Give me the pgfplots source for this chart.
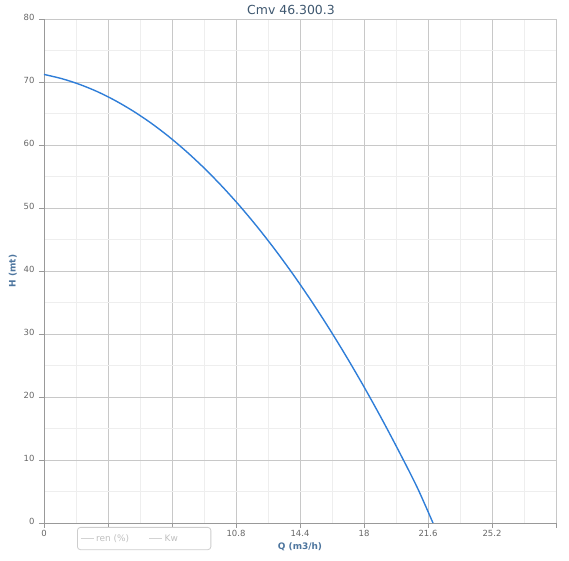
\documentclass[border=0pt]{standalone}
\usepackage{pgfplots}
\pgfplotsset{compat=1.18}
\usepackage{fontspec}
\setmainfont{DejaVu Sans}
\definecolor{curve}{HTML}{2F7ED8}
\definecolor{majgrid}{HTML}{C8C8C8}
\definecolor{mingrid}{HTML}{EEEEEE}
\definecolor{ticklab}{HTML}{666666}
\definecolor{axtitle}{HTML}{4D759E}
\definecolor{ttl}{HTML}{3E576F}
\definecolor{leggray}{HTML}{C0C0C0}
\begin{document}
\begin{tikzpicture}[x=1bp,y=1bp]
\path[use as bounding box] (-44,-38) rectangle (525,523);
\begin{axis}[
  at={(0,0)}, anchor=south west,
  scale only axis, width=512bp, height=504bp,
  xmin=0, xmax=28.8, ymin=0, ymax=80,
  xtick={0,3.6,7.2,10.8,14.4,18,21.6,25.2,28.8},
  xticklabels={0,,,10.8,14.4,18,21.6,25.2,},
  minor xtick={1.8,5.4,9,12.6,16.2,19.8,23.4,27},
  ytick={0,10,20,30,40,50,60,70,80},
  minor ytick={5,15,25,35,45,55,65,75},
  grid=both,
  major grid style={majgrid, line width=0.6bp},
  minor grid style={mingrid, line width=0.6bp},
  axis x line*=bottom, axis y line*=left,
  axis line style={draw=gray!80, line width=0.8bp, -},
  tick style={draw=gray!80, line width=0.8bp},
  major tick length=5bp,
  tick align=outside,
  minor tick length=0pt,
  /pgf/number format/assume math mode=true,
  ticklabel style={font=\fontsize{8.5}{10}\selectfont, text=ticklab},
  xticklabel style={yshift=1bp},
  yticklabel style={xshift=-1bp, yshift=2bp},
  title={Cmv 46.300.3},
  title style={font=\fontsize{12.5}{15}\selectfont, text=ttl, yshift=-5bp, xshift=-9bp},
  xlabel={\textbf{Q (m3/h)}},
  ylabel={\textbf{H (mt)}},
  label style={font=\fontsize{9}{11}\selectfont, text=axtitle},
  xlabel style={yshift=1bp},
  ylabel style={yshift=0bp},
  legend columns=2,
  legend style={at={(0.0645,0)}, anchor=north west, yshift=-4bp,
    draw=leggray!80, rounded corners=3bp, fill=white, line width=0.8bp,
    font=\fontsize{9}{11}\selectfont, text=leggray,
    inner xsep=3bp, inner ysep=5bp,
    /tikz/every even column/.append style={column sep=18bp}},
  legend image post style={leggray!70, line width=0.6bp},
  legend image code/.code={\draw[#1] (0bp,0bp) -- (13bp,0bp);},
]
\addplot[curve, line width=1.4bp, smooth, forget plot] coordinates {
 (0,71.2) (1,70.53) (2,69.62) (3,68.47) (4,67.06) (5,65.41) (6,63.52)
 (7,61.38) (8,58.99) (9,56.36) (10,53.48) (11,50.36) (12,46.99)
 (13,43.37) (14,39.51) (15,35.40) (16,31.05) (17,26.45) (18,21.61)
 (19,16.52) (20,11.18) (21,5.60) (21.88,0)
};
\addlegendimage{leggray}
\addlegendentry{ren (\%)}
\addlegendimage{leggray}
\addlegendentry{Kw\rule{28bp}{0pt}}
\end{axis}
\end{tikzpicture}
\end{document}
